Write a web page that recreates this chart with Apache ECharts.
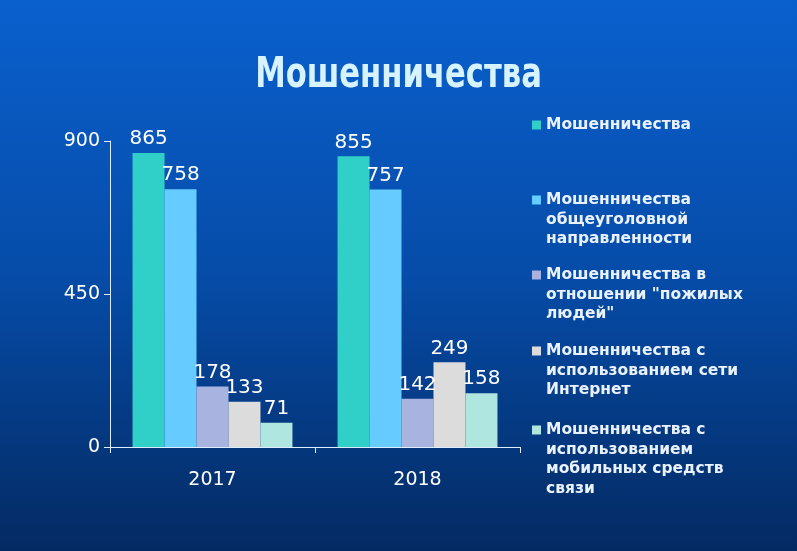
<!DOCTYPE html>
<html><head><meta charset="utf-8">
<script src="https://cdn.jsdelivr.net/npm/echarts@6/dist/echarts.min.js"></script>
<style>html,body{margin:0;padding:0;}#c{width:797px;height:551px;}</style>
</head><body><div id="c"></div>
<script>
const categories = ['2017', '2018'];
const seriesNames = [
  'Мошенничества',
  'Мошенничества общеуголовной направленности',
  'Мошенничества в отношении "пожилых людей"',
  'Мошенничества с использованием сети Интернет',
  'Мошенничества с использованием мобильных средств связи'
];
const legendLines = [
  ['Мошенничества'],
  ['Мошенничества', 'общеуголовной', 'направленности'],
  ['Мошенничества в', 'отношении "пожилых', 'людей"'],
  ['Мошенничества с', 'использованием сети', 'Интернет'],
  ['Мошенничества с', 'использованием', 'мобильных средств', 'связи']
];
const fraudTotal = [865, 855];
const fraudGeneral = [758, 757];
const fraudElderly = [178, 142];
const fraudInternet = [133, 249];
const fraudMobile = [71, 158];
const yTicks = [0, 450, 900];

const values = [fraudTotal, fraudGeneral, fraudElderly, fraudInternet, fraudMobile];
const colors = ['#30CFC8', '#66CCFF', '#A9B3DF', '#DCDCDC', '#B0E6E0'];
const legendFirstLineCenter = [125, 200, 275, 351, 430];
const LH = 19.5;
const legendFont = 'bold 15.5px "DejaVu Sans", Verdana, sans-serif';

const graphics = [{
  type: 'text',
  left: 'center',
  top: 55,
  scaleX: 0.73,
  style: {
    text: 'Мошенничества',
    font: 'bold 42px "DejaVu Sans", sans-serif',
    fill: '#D6F3FF',
    shadowColor: 'rgba(0,20,60,0.6)',
    shadowBlur: 3,
    shadowOffsetX: 2,
    shadowOffsetY: 2
  }
}];
legendLines.forEach((lines, i) => {
  lines.slice(1).forEach((t, k) => {
    graphics.push({
      type: 'text',
      left: 546,
      top: legendFirstLineCenter[i] + (k + 1) * LH - LH / 2,
      style: {text: t, font: legendFont, fill: '#EAF2FF', lineHeight: LH}
    });
  });
});

const chart = echarts.init(document.getElementById('c'));
chart.setOption({
  backgroundColor: {
    type: 'linear', x: 0, y: 0, x2: 0, y2: 1,
    colorStops: [{offset: 0, color: '#0A60CE'}, {offset: 0.5, color: '#064CA8'}, {offset: 1, color: '#042A62'}]
  },
  graphic: graphics,
  legend: seriesNames.map((n, i) => ({
    data: [n],
    left: 527,
    top: legendFirstLineCenter[i] - LH / 2 - 5,
    orient: 'vertical',
    icon: 'rect',
    itemWidth: 9,
    itemHeight: 9,
    itemGap: 0,
    padding: 5,
    selectedMode: false,
    formatter: () => legendLines[i][0],
    textStyle: {
      fontFamily: 'DejaVu Sans, Verdana, sans-serif',
      fontWeight: 'bold',
      fontSize: 15.5,
      lineHeight: LH,
      color: '#EAF2FF'
    }
  })),
  grid: {left: 110, right: 277, top: 141, bottom: 104},
  xAxis: {
    type: 'category',
    data: categories,
    axisLine: {lineStyle: {color: '#E0ECFF', width: 1}},
    axisTick: {show: true, length: 6, lineStyle: {color: '#E0ECFF'}},
    axisLabel: {color: '#FFFFFF', fontSize: 19, margin: 24, fontFamily: 'DejaVu Sans, Verdana, sans-serif'}
  },
  yAxis: {
    type: 'value',
    min: yTicks[0],
    max: yTicks[yTicks.length - 1],
    interval: yTicks[1] - yTicks[0],
    axisLine: {show: true, lineStyle: {color: '#E0ECFF', width: 1}},
    axisTick: {show: true, length: 6, lineStyle: {color: '#E0ECFF'}},
    splitLine: {show: false},
    axisLabel: {color: '#FFFFFF', fontSize: 19, margin: 10, fontFamily: 'DejaVu Sans, Verdana, sans-serif'}
  },
  series: seriesNames.map((n, i) => ({
    name: n,
    type: 'bar',
    data: values[i],
    barGap: '0%',
    barCategoryGap: '22%',
    itemStyle: {color: colors[i]},
    label: {
      show: true,
      position: 'top',
      distance: 4,
      color: '#FFFFFF',
      fontSize: 20,
      fontFamily: 'DejaVu Sans, Verdana, sans-serif'
    }
  }))
});
</script></body></html>
